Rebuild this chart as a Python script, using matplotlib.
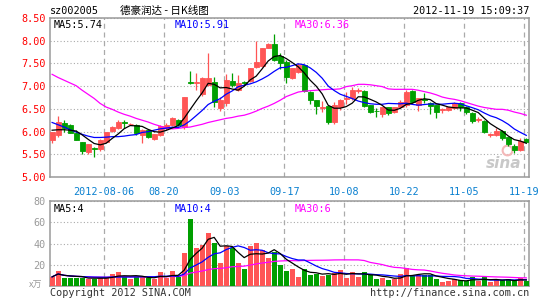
#!/usr/bin/env python3
import matplotlib
matplotlib.use("Agg")
import matplotlib.pyplot as plt
import numpy as np
import pandas as pd

# daily candles, 2012-07-24 .. 2012-11-19
opens = [5.81, 5.92, 6.18, 6.14, 5.97, 5.76, 5.55, 5.63, 5.62, 5.78,
         6.01, 6.07, 6.21, 6.16, 6.15, 5.92, 6.03, 5.83, 5.92, 6.07,
         6.14, 6.25, 6.09, 7.09, 7.08, 6.82, 7.02, 7.10, 6.51, 6.62,
         7.11, 6.91, 7.09, 7.12, 7.43, 7.44, 7.85, 7.93, 7.66, 7.54,
         7.17, 7.32, 7.46, 6.88, 6.69, 6.52, 6.56, 6.21, 6.53, 6.72,
         6.73, 6.90, 6.90, 6.58, 6.46, 6.38, 6.53, 6.43, 6.53, 6.58,
         6.90, 6.58, 6.71, 6.62, 6.58, 6.47, 6.47, 6.51, 6.62, 6.54,
         6.41, 6.26, 6.24, 5.93, 5.92, 6.01, 5.87, 5.68, 5.59, 5.83]
highs = [6.00, 6.34, 6.25, 6.16, 6.03, 5.77, 5.73, 5.66, 5.83, 6.00,
         6.12, 6.26, 6.25, 6.18, 6.16, 6.05, 6.05, 5.95, 6.15, 6.19,
         6.31, 6.27, 6.76, 7.33, 7.28, 7.20, 7.72, 7.20, 6.77, 7.27,
         7.28, 7.24, 7.12, 7.40, 7.99, 7.83, 7.94, 8.14, 7.73, 7.57,
         7.40, 7.50, 7.47, 6.90, 6.70, 6.67, 6.57, 6.65, 6.72, 6.88,
         6.98, 6.95, 6.91, 6.59, 6.51, 6.54, 6.54, 6.55, 6.70, 6.91,
         6.91, 6.75, 6.84, 6.65, 6.59, 6.52, 6.55, 6.64, 6.65, 6.56,
         6.43, 6.33, 6.26, 5.97, 6.07, 6.03, 5.88, 5.73, 5.85, 5.86]
lows = [5.75, 5.88, 5.99, 5.96, 5.81, 5.51, 5.51, 5.44, 5.57, 5.76,
        6.00, 6.05, 6.08, 6.15, 5.92, 5.75, 5.85, 5.82, 5.90, 6.03,
        6.13, 6.12, 6.05, 7.04, 6.91, 6.78, 7.00, 6.55, 6.46, 6.57,
        6.99, 6.89, 7.03, 7.10, 7.40, 7.43, 7.84, 7.55, 7.38, 7.06,
        7.15, 7.30, 6.88, 6.60, 6.38, 6.42, 6.17, 6.16, 6.47, 6.61,
        6.70, 6.85, 6.55, 6.40, 6.31, 6.33, 6.36, 6.40, 6.51, 6.55,
        6.63, 6.45, 6.63, 6.38, 6.30, 6.40, 6.45, 6.49, 6.45, 6.38,
        6.19, 6.22, 5.97, 5.89, 5.90, 5.82, 5.69, 5.53, 5.57, 5.78]
closes = [5.99, 6.21, 6.07, 5.97, 5.82, 5.57, 5.72, 5.61, 5.82, 5.99,
          6.10, 6.21, 6.19, 6.17, 5.96, 6.04, 5.88, 5.94, 6.12, 6.15,
          6.30, 6.14, 6.76, 7.08, 7.09, 7.19, 7.19, 6.65, 6.69, 7.13,
          7.02, 7.07, 7.08, 7.39, 7.54, 7.83, 7.93, 7.57, 7.50, 7.21,
          7.39, 7.46, 6.90, 6.69, 6.56, 6.53, 6.21, 6.58, 6.69, 6.74,
          6.91, 6.91, 6.56, 6.43, 6.45, 6.53, 6.40, 6.53, 6.65, 6.88,
          6.65, 6.73, 6.70, 6.56, 6.43, 6.49, 6.53, 6.62, 6.53, 6.43,
          6.24, 6.27, 5.99, 5.94, 6.01, 5.85, 5.72, 5.59, 5.79, 5.76]
# volume, x10k shares
volumes = [8.6, 14.0, 7.6, 7.6, 7.6, 7.6, 7.0, 7.0, 7.6, 7.6,
           11.1, 13.3, 8.6, 7.0, 8.6, 8.6, 7.6, 7.0, 13.0, 7.6,
           14.0, 8.6, 31.1, 63.5, 36.2, 38.7, 50.2, 40.3, 21.9, 38.1,
           35.6, 22.0, 15.9, 37.8, 40.6, 34.0, 26.7, 31.7, 19.7, 14.0,
           15.9, 8.6, 15.9, 10.2, 11.7, 9.5, 10.8, 12.4, 14.9, 7.6,
           13.3, 8.6, 13.0, 10.2, 6.3, 7.6, 5.4, 7.0, 11.1, 16.5,
           9.5, 10.2, 10.2, 10.8, 6.3, 3.8, 4.4, 6.3, 5.4, 4.4,
           8.6, 4.4, 8.6, 3.8, 5.4, 5.4, 6.3, 4.4, 7.6, 4.4]
# MA30 of price as drawn (history before the window is not shown)
ma30 = [7.26, 7.19, 7.13, 7.07, 7.01, 6.91, 6.82, 6.73, 6.62, 6.54,
        6.49, 6.43, 6.38, 6.34, 6.29, 6.25, 6.21, 6.16, 6.12, 6.08,
        6.06, 6.07, 6.09, 6.10, 6.13, 6.16, 6.20, 6.23, 6.26, 6.29,
        6.31, 6.34, 6.36, 6.40, 6.45, 6.51, 6.56, 6.62, 6.69, 6.77,
        6.82, 6.87, 6.89, 6.90, 6.91, 6.92, 6.93, 6.93, 6.94, 6.99,
        7.01, 7.04, 7.04, 7.03, 7.01, 6.99, 6.94, 6.93, 6.93, 6.93,
        6.93, 6.91, 6.88, 6.85, 6.81, 6.76, 6.73, 6.71, 6.68, 6.64,
        6.60, 6.56, 6.53, 6.51, 6.49, 6.49, 6.47, 6.43, 6.40, 6.36]
ma5_head = [6.03, 6.04, 6.04, 6.03]
ma10_head = [6.20, 6.15, 6.10, 6.04, 5.99, 5.94, 5.90, 5.87, 5.87]

date_idx = [9, 19, 29, 39, 49, 59, 69, 79]
date_labels = ['2012-08-06', '08-20', '09-03', '09-17', '10-08', '10-22', '11-05', '11-19']
price_ticks = [5.0, 5.5, 6.0, 6.5, 7.0, 7.5, 8.0, 8.5]
vol_ticks = [20, 40, 60, 80]

RED = '#ff5555'
GREEN = '#009f00'
GRAY = '#9a9a9a'
BLUE_TXT = '#0a80d0'
MONO = ['DejaVu Sans Mono']
CJK = ['Noto Sans CJK SC', 'DejaVu Sans']
FS = 7.3

plt.rcParams['font.family'] = MONO

x = np.arange(len(closes))
o = np.array(opens); c = np.array(closes)
colors = [RED if cc >= oo else GREEN for oo, cc in zip(o, c)]

cs = pd.Series(closes)
ma5 = cs.rolling(5).mean().to_numpy()
ma5[:4] = ma5_head
ma10 = cs.rolling(10).mean().to_numpy()
ma10[:9] = ma10_head
vs = pd.Series(volumes)
vma5 = vs.rolling(5, min_periods=1).mean()
vma10 = vs.rolling(10, min_periods=1).mean()
vma30 = vs.rolling(30, min_periods=1).mean()

W, H = 545, 300
fig = plt.figure(figsize=(W / 100, H / 100), dpi=100)


def px_axes(l, t, r, b):
    return fig.add_axes([l / W, 1 - b / H, (r - l) / W, (b - t) / H])


def style(ax):
    for s in ax.spines.values():
        s.set_color(GRAY)
        s.set_linewidth(1.1)
    ax.tick_params(length=0, pad=3)
    ax.set_xlim(-0.35, 79.45)
    ax.set_xticks([d - 0.33 for d in date_idx])
    ax.xaxis.grid(True, color='#aaaaaa', lw=0.9, ls=(0, (4, 3)))
    ax.yaxis.grid(True, color='#aaaaaa', lw=0.8, ls=(0, (1, 2)))
    ax.set_axisbelow(True)


# price panel
ax = px_axes(50, 18, 529, 177)
style(ax)
ax.tick_params(axis='x', pad=7)
ax.set_ylim(5.0, 8.5)
ax.set_yticks(price_ticks)
ax.set_yticklabels([f'{p:.2f}' for p in price_ticks], color='red', fontsize=FS)
ax.set_xticklabels(date_labels, color=BLUE_TXT, fontsize=FS)
ax.vlines(x, lows, highs, colors=colors, lw=0.9, zorder=3)
ax.bar(x, np.abs(c - o), bottom=np.minimum(o, c), width=0.8, color=colors,
       edgecolor=colors, lw=0.6, zorder=4)
ax.plot(x, ma30, color='#ff00ff', lw=0.9, zorder=5)
ax.plot(x, ma10, color='#0000ff', lw=0.9, zorder=5)
ax.plot(x, ma5, color='black', lw=0.9, zorder=5)
# sina watermark
ax.plot([0.955], [0.17], transform=ax.transAxes, marker='o', ms=7,
        mfc='none', mec='#f4b8b8', mew=1.5, zorder=2)
ax.text(0.985, 0.04, 'sina', transform=ax.transAxes, fontsize=11, color='#c8c8c8',
        style='italic', weight='bold', family=['DejaVu Sans'], ha='right',
        va='bottom', zorder=2)

# volume panel
axv = px_axes(50, 201, 529, 286)
style(axv)
axv.set_ylim(0, 80)
axv.set_yticks(vol_ticks)
axv.set_yticklabels([str(v) for v in vol_ticks], color=GRAY, fontsize=FS)
axv.set_xticklabels([])
axv.bar(x, volumes, width=0.8, color=colors, zorder=3)
axv.plot(x, vma30, color='#ff00ff', lw=0.9, zorder=5)
axv.plot(x, vma10, color='#0000ff', lw=0.9, zorder=5)
axv.plot(x, vma5, color='black', lw=0.9, zorder=5)


def ftext(px, py, s, **kw):
    kw.setdefault('fontsize', FS)
    kw.setdefault('va', 'center')
    fig.text(px / W, 1 - py / H, s, **kw)


ftext(50, 11, 'sz002005')
ftext(120, 11, '德豪润达 - 日K线图', family=CJK, fontsize=7.6)
ftext(529, 11, '2012-11-19 15:09:37', ha='right')
ftext(54, 25, 'MA5:5.74', color='black')
ftext(175, 25, 'MA10:5.91', color='#0000ff')
ftext(295, 25, 'MA30:6.36', color='#ff00ff')
ftext(54, 209, 'MA5:4', color='black')
ftext(175, 209, 'MA10:4', color='#0000ff')
ftext(295, 209, 'MA30:6', color='#ff00ff')
ftext(29, 285, 'x万', family=CJK, color=GRAY, fontsize=6.5)
ftext(50, 293, 'Copyright 2012 SINA.COM', color='#333333')
ftext(529, 293, 'http://finance.sina.com.cn', color='#333333', ha='right')

fig.savefig('out.png', dpi=100, facecolor='white')
